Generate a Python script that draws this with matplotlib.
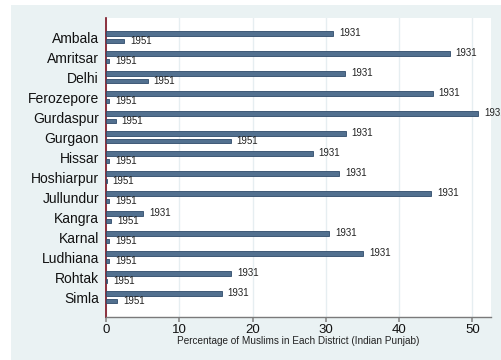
import matplotlib
matplotlib.use("Agg")
import matplotlib.pyplot as plt
from matplotlib.patches import Rectangle
import numpy as np

plt.rcParams['font.family'] = ['Liberation Sans', 'DejaVu Sans']

districts = ["Ambala", "Amritsar", "Delhi", "Ferozepore", "Gurdaspur", "Gurgaon",
             "Hissar", "Hoshiarpur", "Jullundur", "Kangra", "Karnal", "Ludhiana",
             "Rohtak", "Simla"]
pct_1931 = [31.0, 46.9, 32.6, 44.6, 50.8, 32.7, 28.2, 31.8, 44.4, 5.1, 30.5, 35.1, 17.1, 15.8]
pct_1951 = [2.5, 0.4, 5.7, 0.4, 1.3, 17.0, 0.4, 0.1, 0.4, 0.7, 0.4, 0.4, 0.15, 1.5]
year_labels = ["1931", "1951"]
x_ticks = [0, 10, 20, 30, 40, 50]
x_title = "Percentage of Muslims in Each District (Indian Punjab)"

W, H = 502, 360
fig = plt.figure(figsize=(W / 100, H / 100), dpi=100)
fig.patch.set_facecolor("white")
bg = "#eaf2f3"
fig.patches.append(Rectangle((11 / W, 0), 1, (H - 5) / H, transform=fig.transFigure,
                             facecolor=bg, edgecolor="none", zorder=-10))

left, right = 106 / W, 490.7 / W
bottom, top = 1 - 316.7 / H, 1 - 18 / H
ax = fig.add_axes([left, bottom, right - left, top - bottom])
ax.set_facecolor("white")

y = np.arange(len(districts))
off = 0.185
bh = 0.22
bar_face = "#52708f"
bar_edge = "#2f4b6a"
ax.barh(y - off, pct_1931, height=bh, color=bar_face, edgecolor=bar_edge, linewidth=0.6, zorder=3)
ax.barh(y + off, pct_1951, height=bh, color=bar_face, edgecolor=bar_edge, linewidth=0.6, zorder=3)

for yi, v in zip(y, pct_1931):
    ax.annotate(year_labels[0], (v, yi - off), xytext=(4.3, 0), textcoords="offset points",
                va="center", ha="left", fontsize=7, color="#222222", zorder=4,
                annotation_clip=False)
for yi, v in zip(y, pct_1951):
    ax.annotate(year_labels[1], (v, yi + off), xytext=(4.3, -0.5), textcoords="offset points",
                va="center", ha="left", fontsize=7, color="#222222", zorder=4,
                annotation_clip=False)

ax.set_xlim(0, 52.5)
ax.set_ylim(13.98, -0.95)
ax.set_yticks(y)
ax.set_yticklabels(districts, fontsize=10, color="#111111")
ax.tick_params(axis="y", length=0, pad=5)
ax.set_xticks(x_ticks)
ax.set_xticklabels([str(t) for t in x_ticks], fontsize=9.5, color="#111111")
ax.tick_params(axis="x", length=3.5, width=1.2, color="#8a8a8a", pad=1.5)

ax.grid(axis="x", color="#e6eef1", linewidth=1.0, zorder=0)
ax.set_axisbelow(True)

for s in ("top", "right"):
    ax.spines[s].set_visible(False)
ax.spines["left"].set_color("#7a0f1f")
ax.spines["left"].set_linewidth(1.2)
ax.spines["bottom"].set_color("#7a7a7a")
ax.spines["bottom"].set_linewidth(1.0)

ax.set_xlabel(x_title, fontsize=7.2, color="#222222", labelpad=0)

fig.savefig("out.png", dpi=100, facecolor=fig.get_facecolor())
